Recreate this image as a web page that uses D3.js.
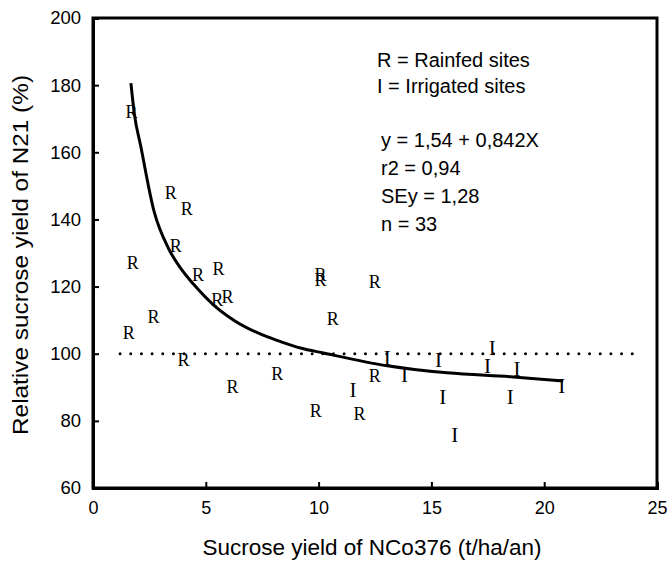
<!DOCTYPE html>
<html>
<head>
<meta charset="utf-8">
<script src="https://cdn.jsdelivr.net/npm/d3@7/dist/d3.min.js"></script>
<style>
  html, body { margin: 0; padding: 0; background: #fff; }
  svg { display: block; }
</style>
</head>
<body>
<svg id="chart" width="667" height="561"></svg>
<script>
// ---- data ----
const xTicks = [0, 5, 10, 15, 20, 25];
const yTicks = [60, 80, 100, 120, 140, 160, 180, 200];

const rainfedX = [1.71, 3.45, 4.16, 3.67, 1.76, 4.66, 5.56, 5.51, 5.96, 2.68, 1.58, 4.01, 6.18, 8.17, 10.09, 10.09, 12.49, 10.63, 9.87, 11.81, 12.49];
const rainfedY = [172.1, 147.8, 143.0, 132.2, 126.9, 123.4, 125.2, 116.0, 117.0, 111.0, 106.3, 98.1, 90.2, 94.0, 123.5, 122.0, 121.3, 110.3, 83.0, 81.9, 93.4];

const irrigatedX = [13.04, 13.81, 15.32, 17.49, 17.70, 18.79, 20.78, 11.52, 15.50, 18.50, 16.03];
const irrigatedY = [98.6, 93.6, 98.1, 96.4, 101.6, 95.3, 90.5, 89.2, 87.2, 87.2, 75.8];

const curveX = [1.68, 1.83, 2.12, 2.71, 3.36, 3.89, 4.47, 5.35, 6.24, 7.74, 8.32, 9.2, 10.22, 13.05, 15.7, 18.63, 20.84];
const curveY = [180.6, 171.6, 161.7, 142.3, 131.2, 125.4, 120.6, 114.5, 110.0, 105.0, 103.6, 101.7, 100.2, 96.4, 94.3, 93.1, 91.9];

const refLineX = [1.2, 24.25];
const refLineY = [100, 100];

const legendLines = ["R = Rainfed sites", "I = Irrigated sites"];
const statLines = ["y = 1,54 + 0,842X", "r2 = 0,94", "SEy = 1,28", "n = 33"];

const xTitle = "Sucrose yield of NCo376 (t/ha/an)";
const yTitle = "Relative sucrose yield of N21  (%)";

// ---- layout ----
const svg = d3.select("#chart");
const L = 93, R = 657, T = 18, B = 488;
const x = d3.scaleLinear().domain([0, 25]).range([L, R]);
const y = d3.scaleLinear().domain([60, 200]).range([B, T]);
const sans = "'Liberation Sans', Arial, Helvetica, sans-serif";
const serif = "'Liberation Serif', 'Times New Roman', serif";

// frame (top/right)
svg.append("rect")
  .attr("x", L).attr("y", T).attr("width", R - L).attr("height", B - T)
  .attr("fill", "none").attr("stroke", "#000").attr("stroke-width", 3);

// left axis
const gy = svg.append("g").attr("transform", `translate(${L},0)`)
  .call(d3.axisLeft(y).tickValues(yTicks).tickSize(-6).tickPadding(12).tickFormat(d3.format("d")));
gy.select(".domain").attr("stroke-width", 3);
gy.selectAll(".tick line").attr("stroke-width", 2);
gy.selectAll("text").attr("font-family", sans).attr("font-size", 18.5).attr("fill", "#000");

// bottom axis
const gx = svg.append("g").attr("transform", `translate(0,${B})`)
  .call(d3.axisBottom(x).tickValues(xTicks).tickSize(-6).tickPadding(13).tickFormat(d3.format("d")));
gx.select(".domain").attr("stroke-width", 3);
gx.selectAll(".tick line").attr("stroke-width", 2);
gx.selectAll("text").attr("font-family", sans).attr("font-size", 18).attr("fill", "#000");

// axis titles
svg.append("text")
  .attr("x", 372).attr("y", 555)
  .attr("text-anchor", "middle")
  .attr("font-family", sans).attr("font-size", 22.5)
  .text(xTitle);

svg.append("text")
  .attr("transform", "translate(28,255) rotate(-90)")
  .attr("text-anchor", "middle")
  .attr("font-family", sans).attr("font-size", 22)
  .attr("textLength", 360).attr("lengthAdjust", "spacingAndGlyphs")
  .text(yTitle);

// reference dotted line at 100%
svg.append("line")
  .attr("x1", x(refLineX[0])).attr("x2", x(refLineX[1]))
  .attr("y1", y(refLineY[0])).attr("y2", y(refLineY[1]))
  .attr("stroke", "#000").attr("stroke-width", 3)
  .attr("stroke-linecap", "round").attr("stroke-dasharray", "0 10.67");

// fitted curve
const curvePts = curveX.map((d, i) => [d, curveY[i]]);
svg.append("path")
  .datum(curvePts)
  .attr("d", d3.line().x(d => x(d[0])).y(d => y(d[1])).curve(d3.curveMonotoneX))
  .attr("fill", "none").attr("stroke", "#000").attr("stroke-width", 3);

// R markers
svg.append("g").selectAll("text")
  .data(rainfedX.map((d, i) => [d, rainfedY[i]]))
  .join("text")
  .attr("x", d => x(d[0])).attr("y", d => y(d[1]))
  .attr("dy", "0.33em").attr("text-anchor", "middle")
  .attr("font-family", serif).attr("font-size", 18)
  .text("R");

// I markers
svg.append("g").selectAll("text")
  .data(irrigatedX.map((d, i) => [d, irrigatedY[i]]))
  .join("text")
  .attr("x", d => x(d[0])).attr("y", d => y(d[1]))
  .attr("dy", "0.33em").attr("text-anchor", "middle")
  .attr("font-family", serif).attr("font-size", 21)
  .text("I");

// legend / statistics text
const legendBase = [66.7, 93.3];
svg.append("g").selectAll("text")
  .data(legendLines).join("text")
  .attr("x", 377).attr("y", (d, i) => legendBase[i])
  .attr("font-family", sans).attr("font-size", 20)
  .text(d => d);

const statBase = [147.3, 175, 203.3, 231];
svg.append("g").selectAll("text")
  .data(statLines).join("text")
  .attr("x", 381).attr("y", (d, i) => statBase[i])
  .attr("font-family", sans).attr("font-size", 20)
  .text(d => d);
</script>
</body>
</html>
